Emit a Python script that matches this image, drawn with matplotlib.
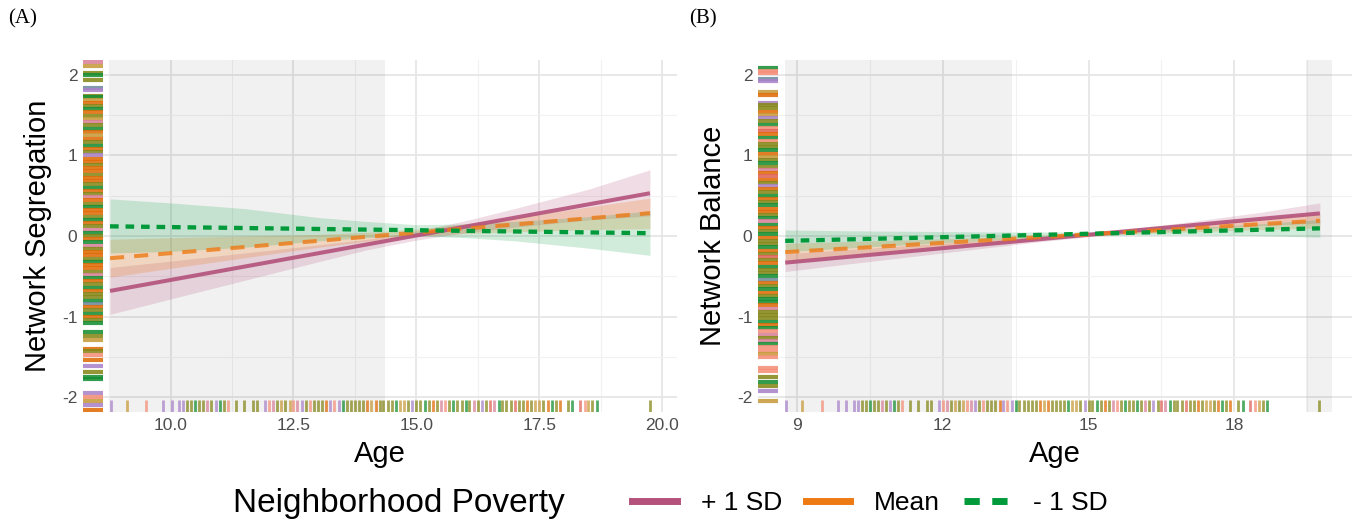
import matplotlib.pyplot as plt
from matplotlib.lines import Line2D

plt.rcParams['font.family'] = ['Liberation Sans', 'DejaVu Sans']
plt.rcParams['axes.unicode_minus'] = False

# ---------------- data ----------------
groups = ["+ 1 SD", "Mean", "- 1 SD"]

# panel A: Network Segregation
line_age_a = [8.77, 19.75]
seg_high = [-0.68, 0.53]
seg_mean = [-0.275, 0.283]
seg_low = [0.12, 0.035]

band_age_a = [8.77, 10, 11.5, 13, 14, 15, 16, 17, 18.5, 19.75]
seg_high_lo = [-0.97, -0.78, -0.55, -0.32, -0.17, -0.05, 0.04, 0.11, 0.20, 0.25]
seg_high_hi = [-0.39, -0.31, -0.21, -0.11, -0.04, 0.06, 0.19, 0.34, 0.58, 0.82]
seg_mean_lo = [-0.51, -0.40, -0.27, -0.14, -0.065, 0.0, 0.03, 0.05, 0.08, 0.09]
seg_mean_hi = [-0.04, -0.02, 0.0, 0.02, 0.045, 0.085, 0.15, 0.23, 0.36, 0.47]
seg_low_lo = [-0.21, -0.19, -0.14, -0.06, -0.02, 0.0, -0.02, -0.06, -0.15, -0.24]
seg_low_hi = [0.46, 0.41, 0.34, 0.23, 0.18, 0.14, 0.15, 0.18, 0.24, 0.31]
sig_a = [(8.77, 14.36)]

# panel B: Network Balance
line_age_b = [8.76, 19.76]
bal_high = [-0.33, 0.28]
bal_mean = [-0.20, 0.19]
bal_low = [-0.06, 0.095]

band_age_b = [8.76, 10, 11.5, 13, 14, 15, 16, 17, 18.5, 19.76]
bal_high_lo = [-0.44, -0.35, -0.245, -0.14, -0.07, -0.01, 0.04, 0.08, 0.13, 0.16]
bal_high_hi = [-0.22, -0.17, -0.11, -0.05, -0.01, 0.04, 0.10, 0.17, 0.29, 0.41]
bal_mean_lo = [-0.31, -0.245, -0.16, -0.085, -0.04, 0.0, 0.03, 0.05, 0.08, 0.10]
bal_mean_hi = [-0.09, -0.07, -0.045, -0.015, 0.01, 0.04, 0.085, 0.135, 0.21, 0.28]
bal_low_lo = [-0.195, -0.15, -0.10, -0.05, -0.02, 0.005, 0.015, 0.015, 0.005, -0.015]
bal_low_hi = [0.075, 0.065, 0.058, 0.05, 0.05, 0.05, 0.07, 0.097, 0.15, 0.205]
sig_b = [(8.76, 13.43), (19.47, 20.0)]

# rug of observed ages (shared by both panels) and their group codes
rug_age = [8.78, 9.11, 9.51, 9.84, 10.02,
           10.17, 10.25, 10.33, 10.42, 10.50, 10.58, 10.67, 10.75, 10.83, 10.92, 11.00, 11.08, 11.17,
           11.33, 11.50, 11.67, 11.75, 11.92,
           12.00, 12.08, 12.17, 12.25, 12.33, 12.42, 12.50, 12.58, 12.67, 12.75, 12.83, 12.92,
           13.00, 13.08, 13.17, 13.25, 13.33, 13.42, 13.50, 13.58, 13.67, 13.75, 13.83, 13.92,
           14.00, 14.08, 14.17, 14.25, 14.33, 14.42, 14.50, 14.58, 14.67, 14.75, 14.83, 14.92,
           15.00, 15.08, 15.17, 15.25, 15.33, 15.42, 15.50, 15.58, 15.67, 15.75, 15.83, 15.92,
           16.00, 16.08, 16.17, 16.25, 16.33, 16.42, 16.50, 16.58, 16.67, 16.75, 16.83, 16.92,
           17.00, 17.08, 17.17, 17.25, 17.33, 17.42, 17.50, 17.58, 17.67, 17.75, 17.83, 17.92,
           18.08, 18.17, 18.33, 18.42, 18.50, 18.58, 18.67, 19.75]
rug_age_grp = ("ptspp" "ppllgllklpgls" "llllp" "skltltskplsl" "llopspglllll"
               "otollllgttlp" "llglolkslgll" "glklplrkglll" "rllolttloglo" "lgrstlgl")

rug_seg = [2.16, 2.10, 2.02, 1.99, 1.93, 1.83, 1.81, 1.74, 1.72,
           1.69, 1.65, 1.61, 1.57, 1.53, 1.49, 1.45, 1.41, 1.37, 1.33, 1.29, 1.25,
           1.20, 1.16, 1.12, 1.08, 1.04, 1.00,
           0.96, 0.92, 0.88, 0.84, 0.80, 0.76, 0.72, 0.68, 0.64, 0.60, 0.56, 0.52, 0.48,
           0.44, 0.40, 0.36, 0.32, 0.28, 0.24, 0.20, 0.16, 0.12, 0.08, 0.04, 0.00,
           -0.04, -0.08, -0.12, -0.16, -0.20, -0.24, -0.28, -0.32, -0.36, -0.40, -0.44, -0.48,
           -0.52, -0.56, -0.60, -0.64, -0.68, -0.72, -0.76, -0.80, -0.84, -0.88, -0.92, -0.96,
           -1.00, -1.04, -1.08,
           -1.19, -1.24, -1.29, -1.40, -1.43, -1.47, -1.54, -1.61, -1.69, -1.75, -1.77,
           -1.94, -1.99, -2.04, -2.09, -2.15]
rug_seg_grp = ("ktlglbplg" "tolgoltklgot" "olgolp" "oolooloolgolkolgoolgolkgl"
               "ogkloolgoolkgolgollgbolgolg" "gltolsoplggpstpo")

rug_bal = [2.08, 2.05, 2.02, 1.94, 1.92, 1.78, 1.75, 1.65, 1.62,
           1.58, 1.54, 1.50, 1.46, 1.42, 1.38, 1.34, 1.30, 1.26, 1.22, 1.18, 1.14, 1.10,
           1.06, 1.02, 0.98, 0.94, 0.90, 0.86, 0.82,
           0.78, 0.74, 0.70, 0.66, 0.62, 0.58, 0.54, 0.50, 0.46, 0.42, 0.38, 0.34, 0.30,
           0.26, 0.22, 0.18, 0.14, 0.10, 0.06, 0.02,
           -0.02, -0.06, -0.10, -0.14, -0.18, -0.22, -0.26, -0.30, -0.34, -0.38, -0.42,
           -0.46, -0.50, -0.54, -0.58, -0.62, -0.66, -0.70, -0.74, -0.78, -0.82, -0.86,
           -0.90, -0.94, -0.98, -1.02, -1.06, -1.10, -1.14, -1.18, -1.22, -1.26, -1.30,
           -1.34, -1.38, -1.42, -1.46, -1.50,
           -1.63, -1.67, -1.75, -1.81, -1.86, -1.92, -2.04]
rug_bal_grp = ("gssbptopl" "lotplgsrogsllgotlglk" "orolpolgolgoolgkgolg"
               "ollgolrlogllgbolgolggoklllgogsklkgssts" "sslglpt")

assert len(rug_age) == len(rug_age_grp)
assert len(rug_seg) == len(rug_seg_grp)
assert len(rug_bal) == len(rug_bal_grp)

# ---------------- style ----------------
c_high = '#B4527B'
c_mean = '#EE7A14'
c_low = '#009A3A'
rug_cols = {'p': '#A983C9', 't': '#C89B3C', 's': '#F59079', 'l': '#86881A',
            'g': '#168F34', 'k': '#D9829A', 'o': '#E06C08', 'r': '#E0645A',
            'b': '#6E8C9E'}

fig = plt.figure(figsize=(13.54, 5.26), dpi=100)
ax_a = fig.add_axes([0.0613, 0.2167, 0.4387, 0.6692])
ax_b = fig.add_axes([0.5598, 0.2167, 0.4387, 0.6692])


def draw_panel(ax, line_age, lines, band_age, bands, sig, ylab, xlim, xt, xtl, xminor):
    ax.set_xlim(*xlim)
    ax.set_ylim(-2.18, 2.18)
    for s in ax.spines.values():
        s.set_visible(False)
    ax.set_xticks(xt)
    ax.set_xticklabels(xtl)
    ax.set_xticks(xminor, minor=True)
    ax.set_yticks([-2, -1, 0, 1, 2])
    ax.set_yticklabels(['-2', '-1', '0', '1', '2'])
    ax.set_yticks([-1.5, -0.5, 0.5, 1.5], minor=True)
    ax.tick_params(which='both', length=0, labelsize=12.5, labelcolor='#4D4D4D', pad=4)
    ax.grid(which='major', color='#E6E6E6', lw=1.3, zorder=0)
    ax.grid(which='minor', color='#F1F1F1', lw=0.8, zorder=0)
    ax.set_axisbelow(True)

    for x0, x1 in sig:
        ax.axvspan(x0, x1, color='black', alpha=0.055, lw=0, zorder=1)

    cols = [c_high, c_mean, c_low]
    alphas = [0.2, 0.22, 0.18]
    for (lo, hi), c, a in zip(bands, cols, alphas):
        ax.fill_between(band_age, lo, hi, color=c, alpha=a, lw=0, zorder=2)

    ax.plot(line_age, lines[0], color=c_high, lw=2.9, alpha=0.9, solid_capstyle='butt', zorder=3)
    ax.plot(line_age, lines[1], color=c_mean, lw=2.9, alpha=0.8, ls=(0, (3.5, 2.5)), zorder=4)
    ax.plot(line_age, lines[2], color=c_low, lw=3.1, ls=(0, (2.0, 1.6)), zorder=5)

    ax.set_ylabel(ylab, fontsize=21, labelpad=7)
    ax.set_xlabel('Age', fontsize=21, labelpad=5)


draw_panel(ax_a, line_age_a, [seg_high, seg_mean, seg_low], band_age_a,
           [(seg_high_lo, seg_high_hi), (seg_mean_lo, seg_mean_hi), (seg_low_lo, seg_low_hi)],
           sig_a, 'Network Segregation', (8.22, 20.3),
           [10, 12.5, 15, 17.5, 20], ['10.0', '12.5', '15.0', '17.5', '20.0'],
           [8.75, 11.25, 13.75, 16.25, 18.75])
draw_panel(ax_b, line_age_b, [bal_high, bal_mean, bal_low], band_age_b,
           [(bal_high_lo, bal_high_hi), (bal_mean_lo, bal_mean_hi), (bal_low_lo, bal_low_hi)],
           sig_b, 'Network Balance', (8.2, 20.42),
           [9, 12, 15, 18], ['9', '12', '15', '18'],
           [10.5, 13.5, 16.5, 19.5])

# rugs
for ax, yr, ygrp in [(ax_a, rug_seg, rug_seg_grp), (ax_b, rug_bal, rug_bal_grp)]:
    ax.vlines(rug_age, 0, 0.033, transform=ax.get_xaxis_transform(),
              colors=[rug_cols[c] for c in rug_age_grp], lw=2.0, alpha=0.75, zorder=6)
    ax.hlines(yr, 0, 0.034, transform=ax.get_yaxis_transform(),
              colors=[rug_cols[c] for c in ygrp], lw=3.0, alpha=0.88, zorder=6)

fig.text(0.006, 0.965, '(A)', fontsize=15, family='Liberation Serif', va='center', ha='left')
fig.text(0.509, 0.965, '(B)', fontsize=15, family='Liberation Serif', va='center', ha='left')

# legend
fig.text(0.172, 0.043, 'Neighborhood Poverty', fontsize=24, va='center', ha='left')
handles = [Line2D([], [], color=c_high, lw=5),
           Line2D([], [], color=c_mean, lw=5),
           Line2D([], [], color=c_low, lw=5, ls=(0, (2.2, 1.8)))]
fig.legend(handles, groups, ncol=3, loc='center left', bbox_to_anchor=(0.457, 0.043),
           frameon=False, fontsize=19, handlelength=1.7, handletextpad=0.9,
           columnspacing=0.9, borderpad=0)

fig.savefig('out.png', dpi=100)
